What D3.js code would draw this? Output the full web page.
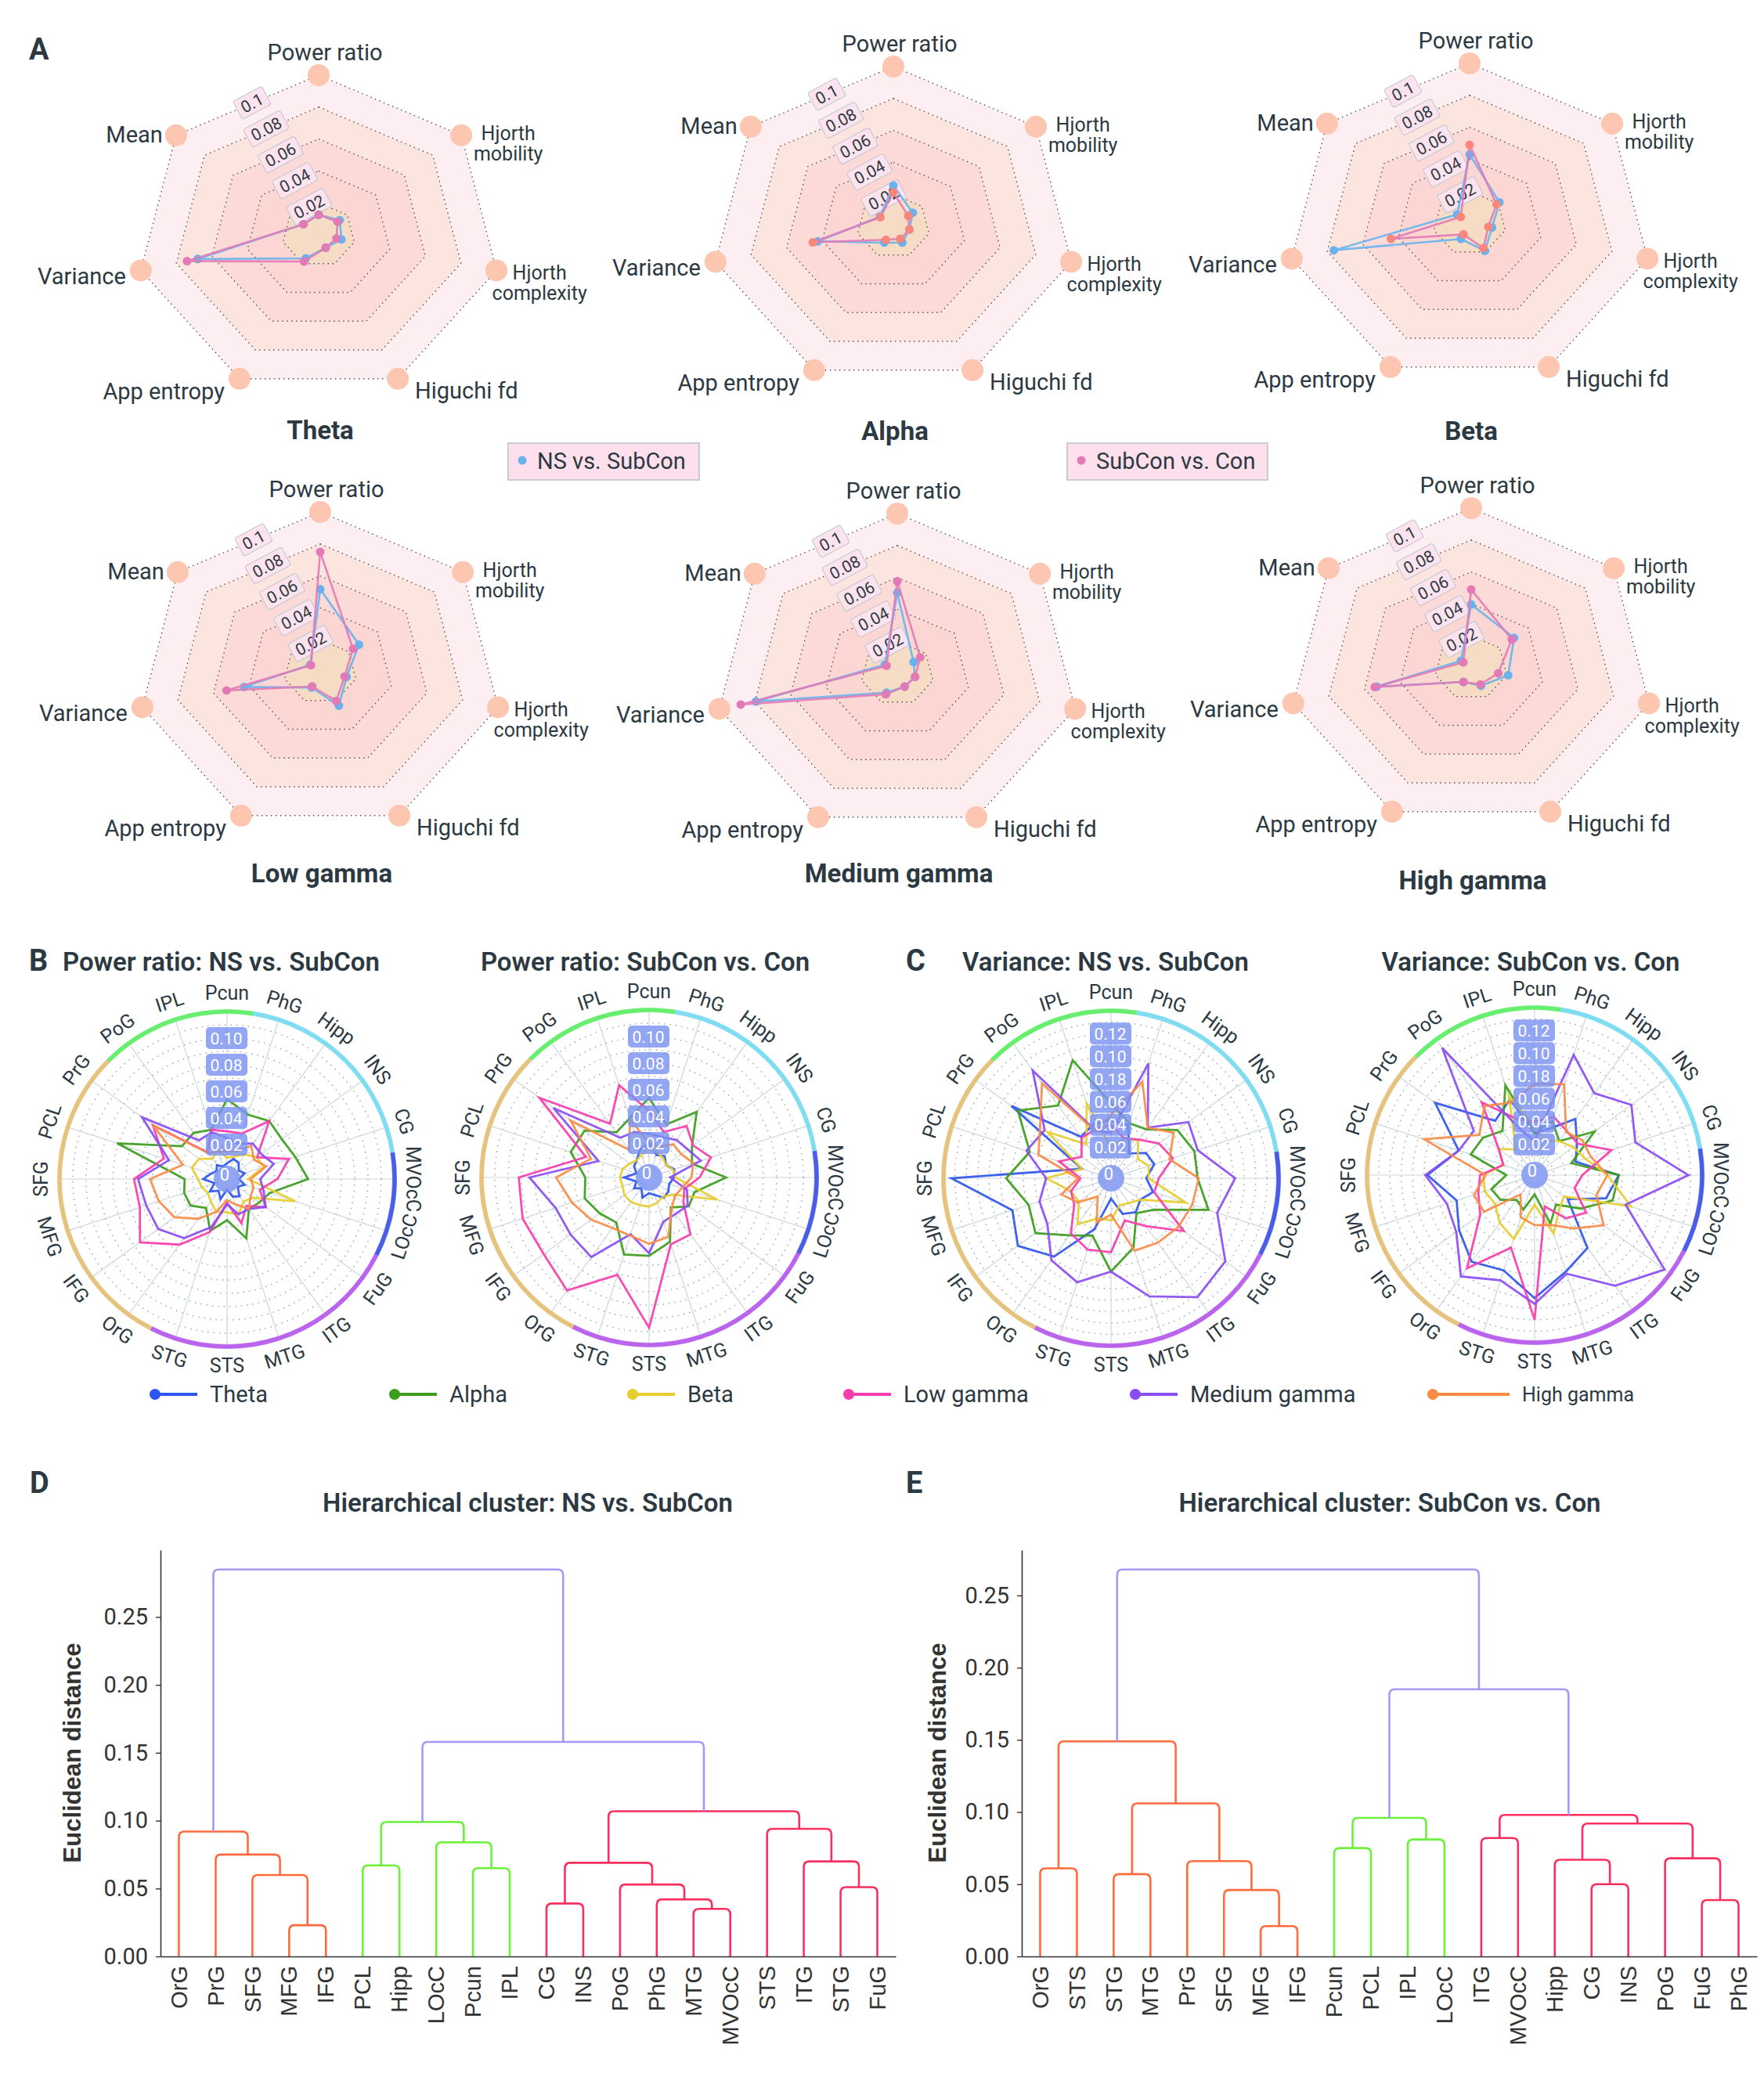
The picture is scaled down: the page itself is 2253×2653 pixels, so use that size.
<!DOCTYPE html>
<html>
<head>
<meta charset="utf-8">
<script src="https://cdn.jsdelivr.net/npm/d3@7"></script>
<style>
  body { margin: 0; background: #fff; }
  svg { display: block; font-family: Roboto, "Liberation Sans", sans-serif; }
</style>
</head>
<body>
<script>
// ---------------- data ----------------
// Panel A: 7 signal features per band, two comparisons
const featureLines = [["Power ratio"], ["Hjorth", "mobility"], ["Hjorth", "complexity"], ["Higuchi fd"], ["App entropy"], ["Variance"], ["Mean"]];
const featureTicks = [0.02, 0.04, 0.06, 0.08, 0.1];

const thetaNS = [0.0126, 0.0148, 0.0128, 0.0089, 0.0163, 0.068, 0.0107];
const thetaSC = [0.0126, 0.0132, 0.0100, 0.0089, 0.0185, 0.074, 0.0107];
const alphaNS = [0.0255, 0.0136, 0.0090, 0.0113, 0.0114, 0.0425, 0.0095];
const alphaSC = [0.0212, 0.0104, 0.0090, 0.0087, 0.0094, 0.0453, 0.0091];
const betaNS = [0.043, 0.0209, 0.0126, 0.0193, 0.0110, 0.0763, 0.0087];
const betaSC = [0.049, 0.0189, 0.0105, 0.0174, 0.0078, 0.0442, 0.0062];
const lowNS = [0.0517, 0.0272, 0.0148, 0.0236, 0.0110, 0.0427, 0.0070];
const lowSC = [0.075, 0.0230, 0.0137, 0.0203, 0.0102, 0.0527, 0.0065];
const medNS = [0.0504, 0.0114, 0.0100, 0.0093, 0.0135, 0.0795, 0.0087];
const medSC = [0.0576, 0.0161, 0.0100, 0.0093, 0.0146, 0.088, 0.0075];
const highNS = [0.0397, 0.0301, 0.0208, 0.0125, 0.0098, 0.0530, 0.0071];
const highSC = [0.049, 0.0285, 0.0152, 0.0116, 0.0098, 0.0542, 0.0055];

// Panels B, C: 20 gyri, 6 bands
const regions = ["Pcun", "PhG", "Hipp", "INS", "CG", "MVOcC", "LOcC", "FuG", "ITG", "MTG", "STS", "STG", "OrG", "IFG", "MFG", "SFG", "PCL", "PrG", "PoG", "IPL"];
const regionLobe = ["par", "lim", "lim", "lim", "lim", "occ", "occ", "tem", "tem", "tem", "tem", "tem", "fro", "fro", "fro", "fro", "fro", "fro", "par", "par"];
const bandNames = ["Theta", "Alpha", "Beta", "Low gamma", "Medium gamma", "High gamma"];

const prNSTheta = [0.006, 0.010, 0.009, 0.005, 0.008, 0.003, 0.008, 0.004, 0.010, 0.008, 0.002, 0.010, 0.005, 0.010, 0.004, 0.012, 0.007, 0.004, 0.007, 0.004];
const prNSAlpha = [0.054, 0.045, 0.048, 0.045, 0.048, 0.055, 0.028, 0.024, 0.022, 0.041, 0.025, 0.035, 0.021, 0.028, 0.028, 0.026, 0.081, 0.036, 0.037, 0.033];
const prNSBeta = [0.010, 0.012, 0.017, 0.022, 0.023, 0.010, 0.048, 0.018, 0.015, 0.022, 0.019, 0.020, 0.015, 0.012, 0.014, 0.016, 0.022, 0.020, 0.013, 0.017];
const prNSLow = [0.030, 0.030, 0.048, 0.022, 0.043, 0.032, 0.020, 0.030, 0.019, 0.029, 0.012, 0.036, 0.055, 0.075, 0.063, 0.064, 0.044, 0.063, 0.019, 0.033];
const prNSMed = [0.025, 0.022, 0.027, 0.026, 0.031, 0.019, 0.023, 0.030, 0.022, 0.022, 0.013, 0.032, 0.049, 0.058, 0.058, 0.061, 0.040, 0.073, 0.030, 0.031];
const prNSHigh = [0.015, 0.016, 0.025, 0.019, 0.025, 0.012, 0.015, 0.016, 0.022, 0.014, 0.010, 0.020, 0.031, 0.043, 0.048, 0.052, 0.029, 0.063, 0.018, 0.016];

const prSCTheta = [0.020, 0.012, 0.014, 0.010, 0.014, 0.013, 0.010, 0.012, 0.013, 0.008, 0.006, 0.010, 0.004, 0.008, 0.004, 0.013, 0.004, 0.008, 0.010, 0.016];
const prSCAlpha = [0.054, 0.036, 0.055, 0.034, 0.028, 0.052, 0.030, 0.031, 0.022, 0.045, 0.053, 0.055, 0.036, 0.040, 0.045, 0.042, 0.056, 0.054, 0.036, 0.041];
const prSCBeta = [0.017, 0.014, 0.012, 0.010, 0.013, 0.014, 0.048, 0.016, 0.012, 0.014, 0.016, 0.016, 0.017, 0.017, 0.015, 0.016, 0.015, 0.012, 0.010, 0.012];
const prSCLow = [0.044, 0.030, 0.042, 0.035, 0.043, 0.032, 0.022, 0.026, 0.047, 0.047, 0.107, 0.071, 0.099, 0.092, 0.094, 0.092, 0.044, 0.096, 0.044, 0.067];
const prSCMed = [0.027, 0.026, 0.029, 0.030, 0.035, 0.010, 0.024, 0.030, 0.028, 0.029, 0.051, 0.039, 0.068, 0.067, 0.068, 0.084, 0.034, 0.083, 0.031, 0.030];
const prSCHigh = [0.020, 0.018, 0.025, 0.024, 0.029, 0.026, 0.020, 0.018, 0.023, 0.041, 0.044, 0.040, 0.041, 0.048, 0.055, 0.064, 0.040, 0.067, 0.020, 0.040];

const varNSTheta = [0.044, 0.042, 0.020, 0.031, 0.033, 0.024, 0.032, 0.025, 0.030, 0.026, 0.011, 0.040, 0.078, 0.094, 0.084, 0.133, 0.020, 0.101, 0.038, 0.043];
const varNSAlpha = [0.059, 0.044, 0.046, 0.065, 0.070, 0.069, 0.083, 0.040, 0.031, 0.057, 0.075, 0.046, 0.055, 0.075, 0.069, 0.085, 0.068, 0.094, 0.072, 0.102];
const varNSBeta = [0.020, 0.030, 0.034, 0.022, 0.028, 0.026, 0.062, 0.025, 0.020, 0.018, 0.030, 0.030, 0.043, 0.028, 0.030, 0.050, 0.020, 0.062, 0.030, 0.062];
const varNSLow = [0.040, 0.030, 0.035, 0.045, 0.050, 0.035, 0.033, 0.072, 0.045, 0.032, 0.058, 0.059, 0.053, 0.033, 0.030, 0.020, 0.041, 0.025, 0.037, 0.038];
const varNSMed = [0.033, 0.099, 0.048, 0.077, 0.073, 0.102, 0.091, 0.117, 0.122, 0.102, 0.075, 0.089, 0.082, 0.062, 0.059, 0.050, 0.071, 0.065, 0.110, 0.037];
const varNSHigh = [0.049, 0.082, 0.048, 0.061, 0.047, 0.070, 0.068, 0.066, 0.063, 0.060, 0.025, 0.034, 0.013, 0.029, 0.039, 0.022, 0.060, 0.070, 0.096, 0.036];

const varSCTheta = [0.030, 0.036, 0.054, 0.039, 0.031, 0.067, 0.059, 0.029, 0.072, 0.082, 0.101, 0.081, 0.087, 0.075, 0.065, 0.087, 0.063, 0.101, 0.052, 0.063];
const varSCAlpha = [0.030, 0.043, 0.030, 0.058, 0.027, 0.067, 0.065, 0.043, 0.025, 0.038, 0.010, 0.025, 0.020, 0.030, 0.033, 0.018, 0.052, 0.049, 0.041, 0.076];
const varSCBeta = [0.035, 0.025, 0.030, 0.035, 0.040, 0.057, 0.082, 0.025, 0.030, 0.047, 0.019, 0.052, 0.045, 0.036, 0.039, 0.038, 0.022, 0.032, 0.021, 0.066];
const varSCLow = [0.040, 0.047, 0.041, 0.040, 0.064, 0.035, 0.030, 0.049, 0.040, 0.022, 0.120, 0.060, 0.094, 0.052, 0.045, 0.041, 0.022, 0.032, 0.072, 0.045];
const varSCMed = [0.023, 0.104, 0.082, 0.098, 0.086, 0.128, 0.077, 0.134, 0.113, 0.084, 0.106, 0.090, 0.103, 0.078, 0.074, 0.089, 0.063, 0.059, 0.131, 0.036];
const varSCHigh = [0.073, 0.077, 0.040, 0.045, 0.045, 0.057, 0.050, 0.068, 0.051, 0.039, 0.037, 0.032, 0.014, 0.048, 0.049, 0.036, 0.095, 0.053, 0.068, 0.060];

const prTicks = [0.02, 0.04, 0.06, 0.08, 0.10];
const prTickLabels = ["0.02", "0.04", "0.06", "0.08", "0.10"];
const varTicks = [0.02, 0.04, 0.06, 0.08, 0.10, 0.12];
const varTickLabels = ["0.02", "0.04", "0.06", "0.18", "0.10", "0.12"];

// Panels D, E: linkage [left, right, height]; numbers refer to earlier merges
const nsMerges = [
  ["MFG", "IFG", 0.023], ["SFG", 0, 0.060], ["PrG", 1, 0.075], ["OrG", 2, 0.092],
  ["PCL", "Hipp", 0.067], ["Pcun", "IPL", 0.065], ["LOcC", 5, 0.084], [4, 6, 0.099],
  ["CG", "INS", 0.039], ["MTG", "MVOcC", 0.035], ["PhG", 9, 0.042], ["PoG", 10, 0.053],
  [8, 11, 0.069], ["STG", "FuG", 0.051], ["ITG", 13, 0.070], ["STS", 14, 0.094],
  [12, 15, 0.107], [7, 16, 0.158], [3, 17, 0.285]
];
const nsClusters = [3, 7, 16];
const scMerges = [
  ["OrG", "STS", 0.061], ["STG", "MTG", 0.057], ["MFG", "IFG", 0.021], ["SFG", 2, 0.046],
  ["PrG", 3, 0.066], [1, 4, 0.106], [0, 5, 0.149], ["Pcun", "PCL", 0.075],
  ["IPL", "LOcC", 0.081], [7, 8, 0.096], ["ITG", "MVOcC", 0.082], ["CG", "INS", 0.050],
  ["Hipp", 11, 0.067], ["FuG", "PhG", 0.039], ["PoG", 13, 0.068], [12, 14, 0.092],
  [10, 15, 0.098], [9, 16, 0.185], [6, 17, 0.268]
];
const scClusters = [6, 9, 16];

// ---------------- drawing ----------------
const W = 2253, H = 2653;
const ink = "#2d3942";
const svg = d3.select("body").append("svg")
  .attr("width", W).attr("height", H)
  .attr("viewBox", [0, 0, W, H]);
svg.append("rect").attr("width", W).attr("height", H).attr("fill", "#fff");

function panelLetter(t, x, y) {
  svg.append("text").attr("x", x).attr("y", y).text(t)
    .attr("font-size", 38).attr("font-weight", 700).attr("fill", ink);
}

// ---------- Panel A ----------
const radarA = [
  {title: "Theta", cx: 407, cy: 300, ty: 561, ns: thetaNS, sc: thetaSC, scDot: "#e27ab6"},
  {title: "Alpha", cx: 1141, cy: 289, ty: 562, ns: alphaNS, sc: alphaSC, scDot: "#f8867a"},
  {title: "Beta", cx: 1877, cy: 285, ty: 562, ns: betaNS, sc: betaSC, scDot: "#f8867a"},
  {title: "Low gamma", cx: 409, cy: 858, ty: 1127, ns: lowNS, sc: lowSC, scDot: "#e27ab6"},
  {title: "Medium gamma", cx: 1146, cy: 860, ty: 1127, ns: medNS, sc: medSC, scDot: "#e27ab6"},
  {title: "High gamma", cx: 1879, cy: 853, ty: 1136, ns: highNS, sc: highSC, scDot: "#e27ab6"}
];
const nameLayout = [
  {anchor: "middle", dx: 8, dy: [-29], fs: 29},
  {anchor: "middle", dx: 60, dy: [-3, 23], fs: 25},
  {anchor: "middle", dx: 55, dy: [3, 29], fs: 25},
  {anchor: "start", dx: 22, dy: [15], fs: 29},
  {anchor: "end", dx: -19, dy: [16], fs: 29},
  {anchor: "end", dx: -19, dy: [7], fs: 29},
  {anchor: "end", dx: -17, dy: [-1], fs: 29}
];
const bandFill = ["#f6dcc4", "#fbd6d2", "#fbdad7", "#fce5de", "#fdeef2"];

function drawRadarA(c) {
  const RX = 233, RY = 204;
  const rs = d3.scaleLinear().domain([0, 0.1]).range([0, 1]);
  const ang = d3.scaleLinear().domain([0, featureLines.length]).range([0, 2 * Math.PI]);
  const pt = (i, v) => [c.cx + RX * rs(v) * Math.sin(ang(i)), c.cy - RY * rs(v) * Math.cos(ang(i))];
  const idx = d3.range(featureLines.length);
  const poly = d3.line().curve(d3.curveLinearClosed);
  const g = svg.append("g");

  // split areas, outer first
  featureTicks.slice().reverse().forEach((v, k) => {
    g.append("path").attr("d", poly(idx.map(i => pt(i, v))))
      .attr("fill", bandFill[featureTicks.length - 1 - k]);
  });
  featureTicks.forEach(v => {
    g.append("path").attr("d", poly(idx.map(i => pt(i, v))))
      .attr("fill", "none").attr("stroke", "#4a4a4a")
      .attr("stroke-width", 1.4).attr("stroke-dasharray", "1.4 4.6");
  });
  // vertex markers
  g.selectAll(".vtx").data(idx).join("circle")
    .attr("cx", i => pt(i, 0.1)[0]).attr("cy", i => pt(i, 0.1)[1])
    .attr("r", 14).attr("fill", "#fdc6b1");

  // ring labels along edge between Power ratio and Mean
  const m0 = pt(0, 0.1), m6 = pt(6, 0.1);
  featureTicks.forEach(v => {
    const f = rs(v);
    const x = c.cx + f * ((m0[0] + m6[0]) / 2 - c.cx) + 6;
    const y = c.cy + f * ((m0[1] + m6[1]) / 2 - c.cy) - 3;
    const lab = v === 0.1 ? "0.1" : d3.format(".2f")(v);
    const w = lab.length * 11.5 + 7;
    const lg = g.append("g").attr("transform", `translate(${x},${y}) rotate(-28)`);
    lg.append("rect").attr("x", -w / 2).attr("y", -13).attr("width", w).attr("height", 26)
      .attr("rx", 3).attr("fill", "#fde3ee").attr("stroke", "#c4cbd2").attr("stroke-width", 1.2);
    lg.append("text").text(lab).attr("text-anchor", "middle").attr("dy", "0.36em")
      .attr("font-size", 21).attr("fill", ink);
  });

  // series
  [[c.ns, "#6ab2ee", "#6ab2ee"], [c.sc, "#e27ab6", c.scDot]].forEach(([vals, col, dot]) => {
    g.append("path").attr("d", poly(vals.map((v, i) => pt(i, v))))
      .attr("fill", "none").attr("stroke", col).attr("stroke-width", 2.6).attr("opacity", 0.9);
    g.selectAll(null).data(vals).join("circle")
      .attr("cx", (v, i) => pt(i, v)[0]).attr("cy", (v, i) => pt(i, v)[1])
      .attr("r", 5.5).attr("fill", dot);
  });

  // axis names
  idx.forEach(i => {
    const [vx, vy] = pt(i, 0.1);
    const L = nameLayout[i];
    featureLines[i].forEach((s, j) => {
      g.append("text").text(s)
        .attr("x", vx + L.dx).attr("y", vy + L.dy[j])
        .attr("dy", "0.35em").attr("text-anchor", L.anchor)
        .attr("font-size", L.fs).attr("fill", ink);
    });
  });
  g.append("text").text(c.title).attr("x", c.cx + 2).attr("y", c.ty)
    .attr("text-anchor", "middle").attr("font-size", 33).attr("font-weight", 700).attr("fill", ink);
}

panelLetter("A", 37, 76);
radarA.forEach(drawRadarA);

// legend for A
[[649, 893, "#6ab2ee", "NS vs. SubCon"], [1363, 1619, "#e27ab6", "SubCon vs. Con"]].forEach(([x0, x1, col, t]) => {
  svg.append("rect").attr("x", x0).attr("y", 566).attr("width", x1 - x0).attr("height", 47)
    .attr("fill", "#fde0ec").attr("stroke", "#c6ccd1").attr("stroke-width", 2);
  svg.append("circle").attr("cx", x0 + 18).attr("cy", 588).attr("r", 5.5).attr("fill", col);
  svg.append("text").text(t).attr("x", x0 + 37).attr("y", 589).attr("dy", "0.35em")
    .attr("font-size", 29).attr("fill", ink);
});

// ---------- Panels B and C ----------
const bandColors = ["#2f56ec", "#3c9c1c", "#e6cd30", "#f63dad", "#8a4cf3", "#f98b46"];
const lobeColor = {par: "#68ee6f", lim: "#80dcf0", occ: "#4a5de6", tem: "#ba63ec", fro: "#e5c27d"};

const polarCharts = [
  {title: "Power ratio: NS vs. SubCon", tx: 80, anchor: "start", cx: 290, cy: 1506, max: 0.12, ticks: prTicks, labels: prTickLabels,
   series: [prNSTheta, prNSAlpha, prNSBeta, prNSLow, prNSMed, prNSHigh]},
  {title: "Power ratio: SubCon vs. Con", tx: 824, anchor: "middle", cx: 829, cy: 1504, max: 0.12, ticks: prTicks, labels: prTickLabels,
   series: [prSCTheta, prSCAlpha, prSCBeta, prSCLow, prSCMed, prSCHigh]},
  {title: "Variance: NS vs. SubCon", tx: 1412, anchor: "middle", cx: 1419, cy: 1505, max: 0.14, ticks: varTicks, labels: varTickLabels,
   series: [varNSTheta, varNSAlpha, varNSBeta, varNSLow, varNSMed, varNSHigh]},
  {title: "Variance: SubCon vs. Con", tx: 1955, anchor: "middle", cx: 1960, cy: 1501, max: 0.14, ticks: varTicks, labels: varTickLabels,
   series: [varSCTheta, varSCAlpha, varSCBeta, varSCLow, varSCMed, varSCHigh]}
];

function drawPolar(c) {
  const inner = 10, outer = 214;
  const r = d3.scaleLinear().domain([0, c.max]).range([inner, outer]);
  const a = d3.scaleBand().domain(regions).range([0, 2 * Math.PI]);
  const step = a.step();
  const g = svg.append("g").attr("transform", `translate(${c.cx},${c.cy})`);

  svg.append("text").text(c.title).attr("x", c.tx).attr("y", 1240)
    .attr("text-anchor", c.anchor).attr("font-size", 33).attr("font-weight", 600).attr("fill", ink);

  g.selectAll(".ring").data(d3.range(1, Math.round(c.max / 0.01) + 1).map(k => k * 0.01)).join("circle")
    .attr("r", d => r(d)).attr("fill", "none").attr("stroke", "#97a5ab")
    .attr("stroke-width", 1.5).attr("stroke-dasharray", "1.4 6");
  g.selectAll(".spoke").data(regions).join("line")
    .attr("x1", d => inner * Math.sin(a(d))).attr("y1", d => -inner * Math.cos(a(d)))
    .attr("x2", d => outer * Math.sin(a(d))).attr("y2", d => -outer * Math.cos(a(d)))
    .attr("stroke", "#cdd8dc").attr("stroke-width", 1.2);

  const arc = d3.arc().innerRadius(outer - 2.6).outerRadius(outer + 2.6);
  g.selectAll(".lobe").data(regions).join("path")
    .attr("d", d => arc({startAngle: a(d) - step / 2, endAngle: a(d) + step / 2}))
    .attr("fill", (d, i) => lobeColor[regionLobe[i]])
    .attr("stroke", (d, i) => lobeColor[regionLobe[i]]).attr("stroke-width", 0.6);

  const line = d3.lineRadial()
    .angle((d, i) => a(regions[i])).radius(d => r(d))
    .curve(d3.curveLinearClosed);
  c.series.forEach((vals, k) => {
    g.append("path").attr("d", line(vals)).attr("fill", "none")
      .attr("stroke", bandColors[k]).attr("stroke-width", 2.8).attr("opacity", 0.92);
  });

  c.ticks.forEach((v, k) => {
    const y = -r(v);
    g.append("rect").attr("x", -27).attr("y", y - 14).attr("width", 53).attr("height", 28)
      .attr("rx", 5).attr("fill", "#7b92f0").attr("opacity", 0.82);
    g.append("text").text(c.labels[k]).attr("x", -1).attr("y", y).attr("dy", "0.36em")
      .attr("text-anchor", "middle").attr("font-size", 21).attr("fill", "#fff");
  });
  g.append("circle").attr("r", 17).attr("fill", "#7b92f0").attr("opacity", 0.82);
  g.append("text").text("0").attr("x", -3).attr("y", -6).attr("dy", "0.36em")
    .attr("text-anchor", "middle").attr("font-size", 22).attr("fill", "#fff");

  g.selectAll(".lab").data(regions).join("text")
    .text(d => d)
    .attr("transform", d => {
      const t = a(d) * 180 / Math.PI;
      const rot = t > 90 && t < 270 ? t - 180 : (t >= 270 ? t - 360 : t);
      const R = outer + 24;
      return `translate(${R * Math.sin(a(d))},${-R * Math.cos(a(d))}) rotate(${rot})`;
    })
    .attr("text-anchor", "middle").attr("dy", "0.35em")
    .attr("font-size", 25).attr("fill", ink);
}

panelLetter("B", 37, 1240);
panelLetter("C", 1157, 1240);
polarCharts.forEach(drawPolar);

// legend row
const legendX = [198, 504, 808, 1084, 1450, 1830];
bandNames.forEach((n, k) => {
  const x = legendX[k], y = 1781;
  const len = k === 5 ? 98 : 54;
  svg.append("line").attr("x1", x).attr("x2", x + len).attr("y1", y).attr("y2", y)
    .attr("stroke", bandColors[k]).attr("stroke-width", 4);
  svg.append("circle").attr("cx", x).attr("cy", y).attr("r", 7).attr("fill", bandColors[k]);
  svg.append("text").text(n).attr("x", x + len + 16).attr("y", y).attr("dy", "0.35em")
    .attr("font-size", k === 5 ? 25 : 29).attr("fill", ink);
});

// ---------- Panels D and E ----------
const dendros = [
  {title: "Hierarchical cluster: NS vs. SubCon", tx: 674, x0: 205, x1: 1144, yl: 92, merges: nsMerges, clusters: nsClusters},
  {title: "Hierarchical cluster: SubCon vs. Con", tx: 1775, x0: 1305, x1: 2244, yl: 1197, merges: scMerges, clusters: scClusters}
];
const clusterColors = ["#ff6b3c", "#6cf03a", "#fa2f5e"];
const linkAbove = "#a797f6";

function drawDendro(c) {
  const top = 1980, bottom = 2499;
  const M = c.merges;
  const order = n => typeof n === "string" ? [n] : order(M[n][0]).concat(order(M[n][1]));
  const leaves = order(M.length - 1);
  const x = d3.scaleBand().domain(leaves).range([c.x0, c.x1]);
  const y = d3.scaleLinear().domain([0, d3.max(M, m => m[2]) * 1.05]).range([bottom, top]);
  const pos = n => typeof n === "string"
    ? {x: x(n) + x.bandwidth() / 2, h: 0}
    : {x: (pos(M[n][0]).x + pos(M[n][1]).x) / 2, h: M[n][2]};
  const col = M.map(() => linkAbove);
  const paint = (n, color) => {
    if (typeof n === "string") return;
    col[n] = color; paint(M[n][0], color); paint(M[n][1], color);
  };
  c.clusters.forEach((n, k) => paint(n, clusterColors[k]));

  svg.append("text").text(c.title).attr("x", c.tx).attr("y", 1931)
    .attr("text-anchor", "middle").attr("font-size", 33).attr("font-weight", 600).attr("fill", ink);

  const g = svg.append("g");
  M.forEach((m, i) => {
    const A = pos(m[0]), B = pos(m[1]);
    const yh = y(m[2]), rr = 7;
    const p = d3.path();
    p.moveTo(A.x, y(A.h));
    p.lineTo(A.x, yh + rr);
    p.quadraticCurveTo(A.x, yh, A.x + rr, yh);
    p.lineTo(B.x - rr, yh);
    p.quadraticCurveTo(B.x, yh, B.x, yh + rr);
    p.lineTo(B.x, y(B.h));
    g.append("path").attr("d", p.toString()).attr("fill", "none")
      .attr("stroke", col[i]).attr("stroke-width", 2.6);
  });

  const yAxis = g.append("g").attr("transform", `translate(${c.x0},0)`)
    .call(d3.axisLeft(y).tickValues(d3.range(0, 0.26, 0.05)).tickFormat(d3.format(".2f"))
      .tickSize(6).tickSizeOuter(0));
  yAxis.select(".domain").attr("stroke", "#333").attr("stroke-width", 1.6);
  yAxis.selectAll(".tick line").attr("stroke", "#333").attr("stroke-width", 1.4);
  yAxis.selectAll(".tick text").attr("x", -16).attr("font-size", 29)
    .attr("font-family", "Roboto, sans-serif").attr("fill", "#333");

  const xAxis = g.append("g").attr("transform", `translate(0,${bottom})`)
    .call(d3.axisBottom(x).tickSize(0).tickSizeOuter(0));
  xAxis.select(".domain").attr("stroke", "#333").attr("stroke-width", 1.6);
  xAxis.selectAll(".tick text")
    .attr("transform", "rotate(-90)").attr("x", -12).attr("y", 0).attr("dy", "0.35em")
    .attr("text-anchor", "end").attr("font-size", 29)
    .attr("font-family", "'Liberation Sans', Arial, sans-serif").attr("fill", "#333");

  svg.append("text").text("Euclidean distance")
    .attr("transform", `translate(${c.yl},2239) rotate(-90)`)
    .attr("text-anchor", "middle").attr("dy", "0.35em")
    .attr("font-size", 31).attr("font-weight", 700)
    .attr("font-family", "'Liberation Sans', Arial, sans-serif").attr("fill", "#333");
}

panelLetter("D", 38, 1907);
panelLetter("E", 1157, 1907);
dendros.forEach(drawDendro);
</script>
</body>
</html>
